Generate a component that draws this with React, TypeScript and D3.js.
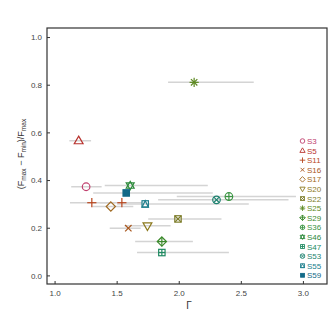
import * as d3 from 'd3';
import React from 'react';

// legend order
const legendSeries = ['S3', 'S5', 'S11', 'S16', 'S17', 'S20', 'S22', 'S25', 'S29', 'S36', 'S46', 'S47', 'S53', 'S55', 'S59'];
const legendColors = ['#c0406e', '#b8322e', '#b8461e', '#a8561c', '#a06a22', '#8c7a1e', '#7e7e2c', '#5e8a22', '#3c8a2c', '#3a9442', '#2e8a3c', '#208a62', '#1e8270', '#20808e', '#136a88'];
const legendShapes = ['circle', 'triUp', 'plus', 'cross', 'diamond', 'triDown', 'squareCross', 'asterisk', 'diamondPlus', 'circlePlus', 'star', 'squarePlus', 'circleCross', 'squareTri', 'squareFill'];

// points (S11 appears twice)
const pointSeries = ['S3', 'S5', 'S11', 'S11', 'S16', 'S17', 'S20', 'S22', 'S25', 'S29', 'S36', 'S46', 'S47', 'S53', 'S55', 'S59'];
const gammaVals = [1.25, 1.19, 1.296, 1.538, 1.59, 1.449, 1.744, 1.99, 2.12, 1.86, 2.40, 1.605, 1.86, 2.30, 1.726, 1.573];
const gammaLo = [1.13, 1.115, 1.12, 1.36, 1.44, 1.30, 1.56, 1.75, 1.91, 1.645, 1.98, 1.40, 1.66, 1.83, 1.50, 1.307];
const gammaHi = [1.375, 1.29, 1.48, 1.70, 1.69, 1.63, 1.93, 2.34, 2.60, 2.11, 2.94, 2.23, 2.40, 2.88, 2.56, 2.27];
const ampVals = [0.374, 0.567, 0.307, 0.307, 0.20, 0.291, 0.21, 0.239, 0.812, 0.144, 0.333, 0.379, 0.098, 0.319, 0.302, 0.348];

const xTicks = [1.0, 1.5, 2.0, 2.5, 3.0];
const yTicks = [0.0, 0.2, 0.4, 0.6, 0.8, 1.0];

function Marker({ shape, x, y, s, color }: { shape: string; x: number; y: number; s: number; color: string }) {
  const sw = s > 3.5 ? 1.2 : 0.9;
  const p = { stroke: color, strokeWidth: sw, fill: 'none' };
  const line = (x1: number, y1: number, x2: number, y2: number, k: number) => (
    <line key={k} x1={x + x1} y1={y + y1} x2={x + x2} y2={y + y2} {...p} />
  );
  const plus = (r: number) => [line(-r, 0, r, 0, 1), line(0, -r, 0, r, 2)];
  const cross = (r: number) => [line(-r, -r, r, r, 3), line(-r, r, r, -r, 4)];
  const tri = (dir: number, r: number) => {
    const h = r * 1.0;
    const pts = [[0, -dir * h * 1.15], [r * 1.1, dir * h * 0.75], [-r * 1.1, dir * h * 0.75]];
    return <polygon key={dir} points={pts.map(q => `${x + q[0]},${y + q[1]}`).join(' ')} {...p} />;
  };
  const diamond = (r: number) => (
    <polygon key="d" points={`${x},${y - r} ${x + r},${y} ${x},${y + r} ${x - r},${y}`} {...p} />
  );
  const sq = (r: number, fill = 'none') => (
    <rect key="s" x={x - r} y={y - r} width={2 * r} height={2 * r} {...p} fill={fill} />
  );
  const circ = (r: number) => <circle key="c" cx={x} cy={y} r={r} {...p} />;
  const r = s;
  switch (shape) {
    case 'circle': return <g>{circ(r * 0.95)}</g>;
    case 'triUp': return <g>{tri(1, r)}</g>;
    case 'triDown': return <g>{tri(-1, r)}</g>;
    case 'plus': return <g>{plus(r * 1.15)}</g>;
    case 'cross': return <g>{cross(r * 0.8)}</g>;
    case 'diamond': return <g>{diamond(r * 1.15)}</g>;
    case 'squareCross': return <g>{sq(r * 0.8)}{cross(r * 0.8)}</g>;
    case 'asterisk': return <g>{plus(r * 1.15)}{cross(r * 0.8)}</g>;
    case 'diamondPlus': return <g>{diamond(r * 1.15)}{plus(r * 1.15)}</g>;
    case 'circlePlus': return <g>{circ(r * 0.95)}{plus(r * 0.95)}</g>;
    case 'star': return <g>{tri(1, r * 0.9)}{tri(-1, r * 0.9)}</g>;
    case 'squarePlus': return <g>{sq(r * 0.8)}{plus(r * 0.8)}</g>;
    case 'circleCross': return <g>{circ(r * 0.95)}{cross(r * 0.67)}</g>;
    case 'squareTri': return (
      <g>{sq(r * 0.8)}
        <polygon points={`${x},${y - r * 0.8} ${x + r * 0.8},${y + r * 0.8} ${x - r * 0.8},${y + r * 0.8}`} {...p} />
      </g>
    );
    case 'squareFill': return <g>{sq(r * 0.8, color)}</g>;
    default: return null;
  }
}

export default function App() {
  const W = 332, H = 332;
  const left = 47, right = 327, top = 28, bottom = 284;
  const x = d3.scaleLinear().domain([0.935, 3.19]).range([left, right]);
  const y = d3.scaleLinear().domain([-0.034, 1.04]).range([bottom, top]);
  const font = '"Liberation Sans", Arial, sans-serif';
  const colorOf = (s: string) => legendColors[legendSeries.indexOf(s)];
  const shapeOf = (s: string) => legendShapes[legendSeries.indexOf(s)];
  const legY = d3.scaleLinear().domain([0, legendSeries.length - 1]).range([141, 275.3]);

  return (
    <svg width={W} height={H} style={{ position: 'absolute', left: 0, top: 0 }} fontFamily={font}>
      <rect x={0} y={0} width={W} height={H} fill="#fff" />
      {/* error bars */}
      {pointSeries.map((s, i) => (
        <line key={'e' + i} x1={x(gammaLo[i])} x2={x(gammaHi[i])} y1={y(ampVals[i])} y2={y(ampVals[i])}
          stroke="#d4d4d4" strokeWidth={1.5} />
      ))}
      {/* points */}
      {pointSeries.map((s, i) => (
        <Marker key={'m' + i} shape={shapeOf(s)} x={x(gammaVals[i])} y={y(ampVals[i])} s={4} color={colorOf(s)} />
      ))}
      {/* frame */}
      <rect x={left} y={top} width={right - left} height={bottom - top} fill="none" stroke="#333" strokeWidth={1.2} />
      {/* ticks */}
      {yTicks.map(t => (
        <g key={'y' + t}>
          <line x1={left} x2={left + 3} y1={y(t)} y2={y(t)} stroke="#333" strokeWidth={1} />
          <text x={left - 5} y={y(t) + 2.8} fontSize={8} fill="#444" textAnchor="end">{t.toFixed(1)}</text>
        </g>
      ))}
      {xTicks.map(t => (
        <g key={'x' + t}>
          <line x1={x(t)} x2={x(t)} y1={bottom} y2={bottom - 3} stroke="#333" strokeWidth={1} />
          <text x={x(t)} y={bottom + 12} fontSize={8} fill="#444" textAnchor="middle">{t.toFixed(1)}</text>
        </g>
      ))}
      {/* axis labels */}
      <text x={189} y={309} fontSize={10} fill="#333" textAnchor="middle">Γ</text>
      <text transform={`translate(24,${(top + bottom) / 2 - 2}) rotate(-90)`} fontSize={9} fill="#333" textAnchor="middle">
        (F<tspan fontSize={6.5} dy={2}>max</tspan><tspan dy={-2}> − F</tspan><tspan fontSize={6.5} dy={2}>min</tspan><tspan dy={-2}>)/F</tspan><tspan fontSize={6.5} dy={2}>max</tspan>
      </text>
      {/* legend */}
      {legendSeries.map((s, i) => (
        <g key={'l' + s}>
          <Marker shape={legendShapes[i]} x={302.5} y={legY(i)} s={2.4} color={legendColors[i]} />
          <text x={307} y={legY(i) + 3} fontSize={8} fill={legendColors[i]}>{s}</text>
        </g>
      ))}
    </svg>
  );
}
